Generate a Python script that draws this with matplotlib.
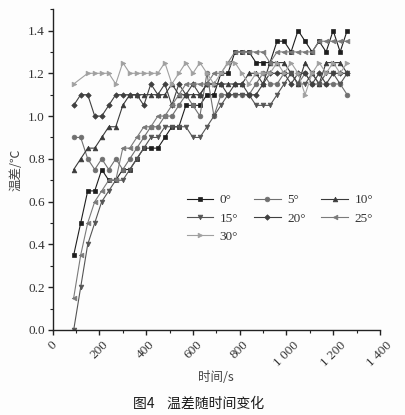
import numpy as np
import matplotlib
matplotlib.use('Agg')
import matplotlib.pyplot as plt
from matplotlib.ticker import MultipleLocator, FixedLocator

# ---------------- data ----------------
time_s = [90, 120, 150, 180, 210, 240, 270, 300, 330, 360,
          390, 420, 450, 480, 510, 540, 570, 600, 630, 660,
          690, 720, 750, 780, 810, 840, 870, 900, 930, 960,
          990, 1020, 1050, 1080, 1110, 1140, 1170, 1200, 1230, 1260]

labels = ['0°', '5°', '10°', '15°', '20°', '25°', '30°']

d0 = [0.35, 0.50, 0.65, 0.65, 0.75, 0.70, 0.70, 0.75, 0.75, 0.80,
      0.85, 0.85, 0.85, 0.90, 0.95, 0.95, 1.05, 1.05, 1.05, 1.10,
      1.10, 1.20, 1.20, 1.30, 1.30, 1.30, 1.25, 1.25, 1.25, 1.35,
      1.35, 1.30, 1.40, 1.35, 1.30, 1.35, 1.30, 1.40, 1.30, 1.40]
d5 = [0.90, 0.90, 0.80, 0.75, 0.80, 0.75, 0.80, 0.75, 0.80, 0.85,
      0.90, 0.95, 0.95, 1.00, 1.00, 1.05, 1.10, 1.05, 1.00, 1.20,
      1.00, 1.10, 1.10, 1.10, 1.10, 1.10, 1.15, 1.20, 1.15, 1.15,
      1.20, 1.20, 1.15, 1.20, 1.15, 1.15, 1.15, 1.15, 1.15, 1.10]
d10 = [0.75, 0.80, 0.85, 0.85, 0.90, 0.95, 0.95, 1.05, 1.10, 1.10,
       1.10, 1.10, 1.10, 1.10, 1.15, 1.10, 1.10, 1.10, 1.10, 1.15,
       1.15, 1.15, 1.15, 1.15, 1.15, 1.20, 1.20, 1.15, 1.25, 1.25,
       1.25, 1.20, 1.15, 1.25, 1.20, 1.15, 1.25, 1.25, 1.25, 1.20]
d15 = [0.00, 0.20, 0.40, 0.50, 0.60, 0.65, 0.70, 0.70, 0.75, 0.80,
       0.85, 0.90, 0.90, 0.95, 0.95, 0.95, 0.95, 0.90, 0.90, 0.95,
       1.00, 1.05, 1.10, 1.10, 1.10, 1.10, 1.05, 1.05, 1.05, 1.10,
       1.15, 1.20, 1.15, 1.15, 1.20, 1.15, 1.20, 1.20, 1.15, 1.20]
d20 = [1.05, 1.10, 1.10, 1.00, 1.00, 1.05, 1.10, 1.10, 1.10, 1.10,
       1.05, 1.15, 1.10, 1.15, 1.05, 1.15, 1.10, 1.15, 1.10, 1.15,
       1.15, 1.15, 1.10, 1.15, 1.15, 1.10, 1.10, 1.15, 1.20, 1.20,
       1.20, 1.15, 1.20, 1.20, 1.15, 1.20, 1.15, 1.20, 1.20, 1.20]
d25 = [0.15, 0.35, 0.50, 0.60, 0.65, 0.70, 0.70, 0.85, 0.85, 0.90,
       0.95, 0.95, 1.00, 1.00, 1.05, 1.10, 1.15, 1.15, 1.15, 1.15,
       1.20, 1.20, 1.25, 1.30, 1.30, 1.30, 1.30, 1.30, 1.25, 1.30,
       1.30, 1.30, 1.30, 1.30, 1.30, 1.35, 1.35, 1.35, 1.35, 1.35]
d30 = [1.15, np.nan, 1.20, 1.20, 1.20, 1.20, 1.15, 1.25, 1.20, 1.20,
       1.20, 1.20, 1.20, 1.25, 1.15, 1.20, 1.25, 1.20, 1.25, 1.20,
       1.15, 1.20, 1.25, 1.25, 1.20, 1.15, 1.20, 1.20, 1.20, 1.25,
       1.20, 1.25, 1.20, 1.10, 1.20, 1.25, 1.20, 1.25, 1.20, 1.25]

series = [d0, d5, d10, d15, d20, d25, d30]

x_ticks = [0, 200, 400, 600, 800, 1000, 1200, 1400]
x_ticklabels = ['0', '200', '400', '600', '800', '1 000', '1 200', '1 400']
y_ticks = [0.0, 0.2, 0.4, 0.6, 0.8, 1.0, 1.2, 1.4]
y_ticklabels = ['0.0', '0.2', '0.4', '0.6', '0.8', '1.0', '1.2', '1.4']

# ---------------- style ----------------
markers = ['s', 'o', '^', 'v', 'D', '<', '>']
colors = ['#1e1e1e', '#707070', '#3a3a3a', '#555555', '#404040', '#7a7a7a', '#a0a0a0']
msizes = [3.2, 3.4, 3.4, 3.4, 2.8, 3.4, 3.4]

serif = ['Liberation Serif', 'DejaVu Serif']
cjk = ['Noto Sans CJK SC', 'DejaVu Sans']

fig = plt.figure(figsize=(4.05, 4.15), dpi=100)
fig.patch.set_facecolor('#fdfdfd')
ax = fig.add_axes([0.130, 0.205, 0.808, 0.773])
ax.set_facecolor('#fdfdfd')

t = np.array(time_s, dtype=float)
handles = []
for vals, lab, mk, c, ms in zip(series, labels, markers, colors, msizes):
    v = np.array(vals, dtype=float)
    m = ~np.isnan(v)
    h, = ax.plot(t[m], v[m], marker=mk, color=c, markersize=ms, linewidth=0.8,
                 markeredgewidth=0.5, label=lab)
    handles.append(h)

ax.set_xlim(0, 1400)
ax.set_ylim(0, 1.5)
for s in ['top', 'right']:
    ax.spines[s].set_visible(False)
for s in ['left', 'bottom']:
    ax.spines[s].set_linewidth(1.0)
    ax.spines[s].set_color('#222222')

ax.xaxis.set_major_locator(FixedLocator(x_ticks))
ax.xaxis.set_minor_locator(MultipleLocator(100))
ax.yaxis.set_major_locator(FixedLocator(y_ticks))
ax.yaxis.set_minor_locator(MultipleLocator(0.1))
ax.set_yticklabels(y_ticklabels, fontfamily=serif, fontsize=9.5, color='#333333')
ax.set_xticklabels(x_ticklabels, fontfamily=serif, fontsize=9.5, color='#333333',
                   rotation=45, ha='center', va='top')
ax.tick_params(axis='both', which='major', direction='out', length=3.5, width=1.0,
               color='#222222')
ax.tick_params(axis='both', which='minor', direction='out', length=2, width=0.8,
               color='#222222')
ax.tick_params(axis='x', which='major', pad=3)
ax.tick_params(axis='y', which='major', pad=2)

ax.set_ylabel('温差/℃', fontfamily=cjk, fontsize=9, color='#444444', labelpad=4)
ax.set_xlabel('时间/s', fontfamily=cjk, fontsize=9, color='#444444', labelpad=2)

# row-major legend order (matplotlib fills column by column)
order = [0, 3, 6, 1, 4, 2, 5]
leg = ax.legend([handles[i] for i in order], [labels[i] for i in order],
                loc='upper left', bbox_to_anchor=(0.445, 0.548),
                bbox_transform=fig.transFigure, ncol=3, frameon=False,
                prop={'family': serif, 'size': 9.5}, handlelength=2.0,
                handletextpad=0.5, columnspacing=1.2, labelspacing=0.45,
                borderpad=0, numpoints=1)
for txt in leg.get_texts():
    txt.set_color('#333333')

fig.text(0.49, 0.028, '图4    温差随时间变化', fontfamily=cjk, fontsize=10,
         color='#1a1a1a', ha='center', va='center', fontweight='medium')

fig.savefig('out.png', dpi=100, facecolor=fig.get_facecolor())
